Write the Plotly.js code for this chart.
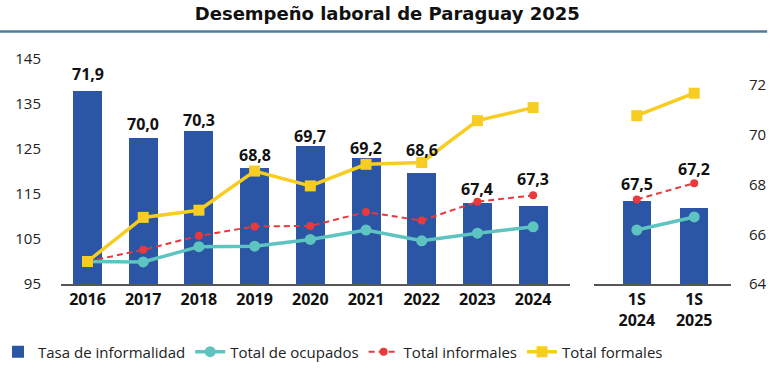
<!DOCTYPE html>
<html>
<head>
<meta charset="utf-8">
<script src="https://cdn.plot.ly/plotly-3.0.1.min.js"></script>
<style>html,body{margin:0;padding:0;background:#fff}#chart{width:770px;height:368px}</style>
</head>
<body>
<div id="chart"></div>
<script>
// ---- data ----
const years = ['2016','2017','2018','2019','2020','2021','2022','2023','2024'];
const semesters = ['1S<br>2024','1S<br>2025'];
const tasaAnual = [71.9, 70.0, 70.3, 68.8, 69.7, 69.2, 68.6, 67.4, 67.3];
const tasaSem = [67.5, 67.2];
const ocupadosAnual = [100, 99.9, 103.3, 103.4, 104.9, 107.0, 104.6, 106.3, 107.7];
const ocupadosSem = [107.0, 109.9];
const informalesAnual = [100, 102.6, 105.7, 107.8, 107.9, 111.0, 109.1, 113.3, 114.7];
const informalesSem = [113.8, 117.4];
const formalesAnual = [100, 109.8, 111.4, 120.1, 116.8, 121.6, 122.0, 131.3, 134.2];
const formalesSem = [132.4, 137.4];
const leftTicks = [95, 105, 115, 125, 135, 145];
const rightTicks = [64, 66, 68, 70, 72];
// label offsets (px) above bar tops
const shiftAnual = [17, 14, 11, 13.3, 10.3, 10.3, 23.7, 14, 26.7];
const shiftSem = [16.7, 39.7];

const FONT = 'Open Sans, Lato, sans-serif';
const cBar = '#2a56a5', cOcu = '#5ec4c1', cInf = '#e8393c', cFor = '#f7cd22';
const barRange = [64.16, 73.185];

function fmt(v){ return v.toFixed(1).replace('.', ','); }

const traces = [
  {type:'bar', x:years, y:tasaAnual, xaxis:'x', yaxis:'y', width:0.52,
   marker:{color:cBar}, name:'Tasa de informalidad', legendgroup:'t', hoverinfo:'none'},
  {type:'scatter', mode:'lines+markers', x:years, y:ocupadosAnual, xaxis:'x', yaxis:'y2',
   line:{color:cOcu, width:3.5}, marker:{color:cOcu, size:11, symbol:'circle'},
   name:'Total de ocupados', legendgroup:'o'},
  {type:'scatter', mode:'lines+markers', x:years, y:informalesAnual, xaxis:'x', yaxis:'y2',
   line:{color:cInf, width:2, dash:'6px,4px'}, marker:{color:cInf, size:8, symbol:'circle'},
   name:'Total informales', legendgroup:'i'},
  {type:'scatter', mode:'lines+markers', x:years, y:formalesAnual, xaxis:'x', yaxis:'y2',
   line:{color:cFor, width:3.5}, marker:{color:cFor, size:11, symbol:'square'},
   name:'Total formales', legendgroup:'f'},
  {type:'bar', x:semesters, y:tasaSem, xaxis:'x2', yaxis:'y3', width:0.49,
   marker:{color:cBar}, showlegend:false, legendgroup:'t'},
  {type:'scatter', mode:'lines+markers', x:semesters, y:ocupadosSem, xaxis:'x2', yaxis:'y4',
   line:{color:cOcu, width:3.5}, marker:{color:cOcu, size:11}, showlegend:false, legendgroup:'o'},
  {type:'scatter', mode:'lines+markers', x:semesters, y:informalesSem, xaxis:'x2', yaxis:'y4',
   line:{color:cInf, width:2, dash:'6px,4px'}, marker:{color:cInf, size:8}, showlegend:false, legendgroup:'i'},
  {type:'scatter', mode:'lines+markers', x:semesters, y:formalesSem, xaxis:'x2', yaxis:'y4',
   line:{color:cFor, width:3.5}, marker:{color:cFor, size:11, symbol:'square'}, showlegend:false, legendgroup:'f'},
  // empty trace to carry the right-hand tick axis
  {type:'scatter', mode:'none', x:[], y:[], xaxis:'x2', yaxis:'y5', showlegend:false, hoverinfo:'skip'}
];

const annotations = [];
// category axes: position annotations by category index
years.forEach((c,i)=>annotations.push({x:i, y:tasaAnual[i], xref:'x', yref:'y', text:fmt(tasaAnual[i]),
  showarrow:false, yanchor:'middle', yshift:shiftAnual[i], font:{family:FONT, size:16, color:'#111', weight:'bold'}}));
semesters.forEach((c,i)=>annotations.push({x:i, y:tasaSem[i], xref:'x2', yref:'y3', text:fmt(tasaSem[i]),
  showarrow:false, yanchor:'middle', yshift:shiftSem[i], font:{family:FONT, size:16, color:'#111', weight:'bold'}}));

const xCommon = {type:'category', showline:true, linecolor:'#555', linewidth:1.5, ticks:'',
  showgrid:false, zeroline:false, tickfont:{family:FONT, size:16, color:'#111', weight:'bold'}, fixedrange:true};
const hiddenY = {showticklabels:false, showgrid:false, zeroline:false, showline:false, ticks:'', fixedrange:true};

const layout = {
  width:770, height:368,
  margin:{l:61, r:39, t:59, b:84, autoexpand:false},
  paper_bgcolor:'#fff', plot_bgcolor:'rgba(0,0,0,0)',
  font:{family:FONT, color:'#222'},
  title:{text:'Desempeño laboral de Paraguay 2025', x:0.503, xanchor:'center', y:0.962, yanchor:'middle',
    xref:'container', yref:'container', font:{family:'DejaVu Sans, sans-serif', size:18, color:'#111', weight:'bold'}},
  showlegend:true,
  legend:{orientation:'h', x:-0.094, xanchor:'left', y:-0.302, yanchor:'middle',
    font:{family:FONT, size:15, color:'#222'}, itemwidth:30, traceorder:'normal'},
  bargap:0,
  xaxis:Object.assign({}, xCommon, {domain:[0, 0.7597], anchor:'y', range:[-0.476, 8.662]}),
  xaxis2:Object.assign({}, xCommon, {domain:[0.7955, 1], anchor:'y3', range:[-0.746, 1.641]}),
  yaxis:Object.assign({}, hiddenY, {domain:[0,1], anchor:'x', range:barRange}),
  yaxis2:{overlaying:'y', anchor:'x', side:'left', range:[95,145], tickvals:leftTicks,
    showgrid:false, zeroline:false, showline:false, ticks:'', ticklabelstandoff:19,
    tickfont:{family:FONT, size:15, color:'#222'}, fixedrange:true},
  yaxis3:Object.assign({}, hiddenY, {domain:[0,1], anchor:'x2', side:'right', range:barRange}),
  yaxis4:Object.assign({}, hiddenY, {overlaying:'y3', anchor:'x2', range:[95,145]}),
  yaxis5:{overlaying:'y3', anchor:'x2', side:'right', range:[64, 73.045], tickvals:rightTicks,
    showgrid:false, zeroline:false, showline:false, ticks:'', ticklabelstandoff:17,
    tickfont:{family:FONT, size:15, color:'#222'}, fixedrange:true},
  annotations:annotations,
  shapes:[{type:'line', xref:'paper', yref:'paper', x0:-0.091, x1:1.054, y0:1.122, y1:1.122,
    line:{color:'#4f7c9d', width:2.5}}]
};

Plotly.newPlot('chart', traces, layout, {displayModeBar:false, staticPlot:true});
</script>
</body>
</html>
